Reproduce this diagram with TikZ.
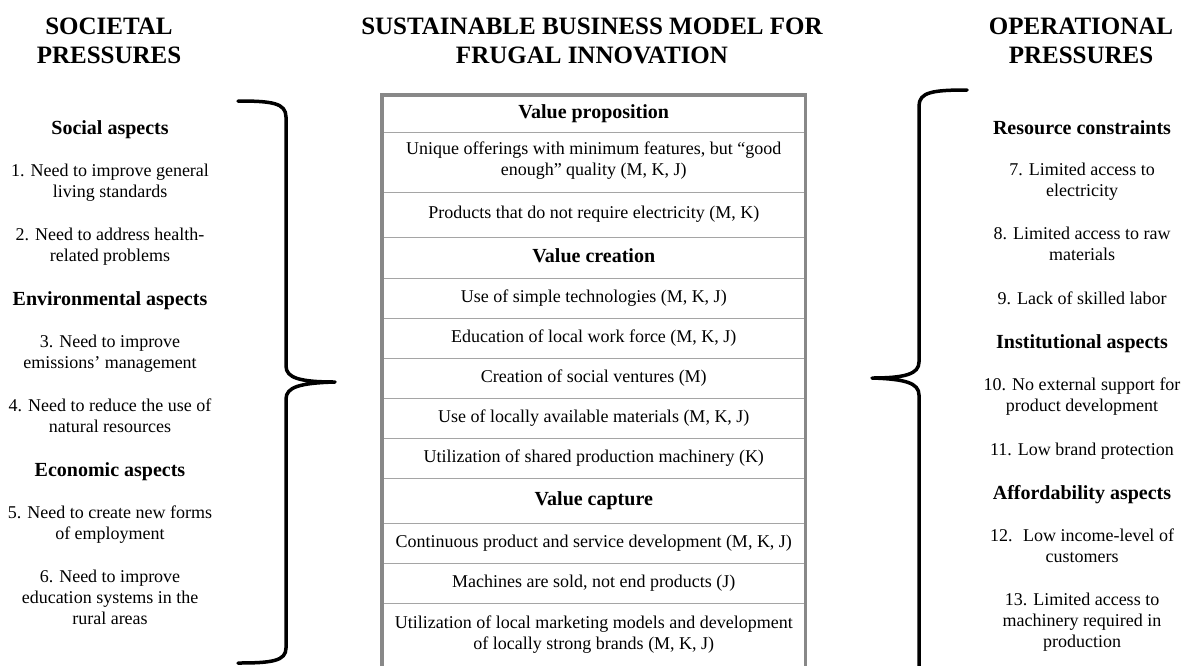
\documentclass[tikz,border=0pt]{standalone}
\usepackage{fontspec}
\setmainfont{Liberation Serif}
\definecolor{tbl}{RGB}{136,136,136}
\definecolor{tblin}{RGB}{165,165,165}
\tikzset{
  txt/.style={align=center, inner sep=0pt, font=\fontsize{18}{21}\selectfont,
    execute at begin node=\strut, execute at end node=\strut},
  hd/.style={txt, font=\fontsize{20}{24}\selectfont\bfseries},
  ttl/.style={txt, font=\fontsize{25}{29}\selectfont\bfseries},
  row/.style={txt, minimum width=423.5pt},
  rowhd/.style={row, font=\fontsize{20}{24}\selectfont\bfseries},
  rowline/.style={draw=tblin, line width=1.3pt},
  tblborder/.style={draw=tbl, line width=3.5pt, line join=miter},
  bracepath/.style={line width=3.5pt, line cap=round, line join=round},
}
\begin{document}
\begin{tikzpicture}[x=1pt,y=-1pt]
\useasboundingbox (0,0) rectangle (1184,665);
\begin{scope}
\clip (0,0) rectangle (1184,665);

% titles
\node[ttl] (tl) at (109,45) {SOCIETAL\\PRESSURES};
\node[ttl] (tc) at (592,45) {SUSTAINABLE BUSINESS MODEL FOR\\FRUGAL INNOVATION};
\node[ttl] (tr) at (1081,45) {OPERATIONAL\\PRESSURES};

% left column
\node[hd]  (soc) at (110,130) {Social aspects};
\node[txt] (s1)  at (110,183.5) {1. Need to improve general\\living standards};
\node[txt] (s2)  at (110,247.5) {2. Need to address health-\\related problems};
\node[hd]  (env) at (110,301) {Environmental aspects};
\node[txt] (s3)  at (110,354.5) {3. Need to improve\\emissions’ management};
\node[txt] (s4)  at (110,418.5) {4. Need to reduce the use of\\natural resources};
\node[hd]  (eco) at (110,472) {Economic aspects};
\node[txt] (s5)  at (110,525.5) {5. Need to create new forms\\of employment};
\node[txt] (s6)  at (110,600) {6. Need to improve\\education systems in the\\rural areas};

% right column
\node[hd]  (res) at (1082,130) {Resource constraints};
\node[txt] (o7)  at (1082,182.5) {7. Limited access to\\electricity};
\node[txt] (o8)  at (1082,246.5) {8. Limited access to raw\\materials};
\node[txt] (o9)  at (1082,300) {9. Lack of skilled labor};
\node[hd]  (ins) at (1082,344) {Institutional aspects};
\node[txt] (o10) at (1082,397.5) {10. No external support for\\product development};
\node[txt] (o11) at (1082,451) {11. Low brand protection};
\node[hd]  (aff) at (1082,495) {Affordability aspects};
\node[txt] (o12) at (1082,548.5) {12.~ Low income-level of\\customers};
\node[txt] (o13) at (1082,623) {13. Limited access to\\machinery required in\\production};

% central table rows
\node[rowhd, minimum height=37pt] (r0)  at (593.75,113.5) {Value proposition};
\node[row,   minimum height=60pt] (r1)  at (593.75,162) {Unique offerings with minimum features, but “good\\enough” quality (M, K, J)};
\node[row,   minimum height=45pt] (r2)  at (593.75,214.5) {Products that do not require electricity (M, K)};
\node[rowhd, minimum height=41pt] (r3)  at (593.75,257.5) {Value creation};
\node[row,   minimum height=40pt] (r4)  at (593.75,298) {Use of simple technologies (M, K, J)};
\node[row,   minimum height=40pt] (r5)  at (593.75,338) {Education of local work force (M, K, J)};
\node[row,   minimum height=40pt] (r6)  at (593.75,378) {Creation of social ventures (M)};
\node[row,   minimum height=40pt] (r7)  at (593.75,418) {Use of locally available materials (M, K, J)};
\node[row,   minimum height=40pt] (r8)  at (593.75,458) {Utilization of shared production machinery (K)};
\node[rowhd, minimum height=45pt] (r9)  at (593.75,500.5) {Value capture};
\node[row,   minimum height=40pt] (r10) at (593.75,543) {Continuous product and service development (M, K, J)};
\node[row,   minimum height=40pt] (r11) at (593.75,583) {Machines are sold, not end products (J)};
\node[row,   minimum height=65pt] (r12) at (593.75,635.5) {Utilization of local marketing models and development\\of locally strong brands (M, K, J)};

\foreach \r in {r0,r1,r2,r3,r4,r5,r6,r7,r8,r9,r10,r11}
  \draw[rowline] (\r.south west) -- (\r.south east);
\draw[tblborder] ([yshift=-10pt]r12.south west) -- (r0.north west) -- (r0.north east) -- ([yshift=-10pt]r12.south east);

% left brace
\draw[bracepath] (238,101) .. controls (272,101) and (286,103) .. (286,117)
  -- (286,366) .. controls (286,378) and (300,382) .. (335,382)
  .. controls (300,383) and (286,387) .. (286,399)
  -- (286,648) .. controls (286,661) and (272,663) .. (238,663);

% right brace
\draw[bracepath] (967,90) .. controls (933,90) and (919,92) .. (919,106)
  -- (919,362) .. controls (919,374) and (905,378) .. (872,378)
  .. controls (905,379) and (919,383) .. (919,395)
  -- (919,672);
\end{scope}
\end{tikzpicture}
\end{document}
